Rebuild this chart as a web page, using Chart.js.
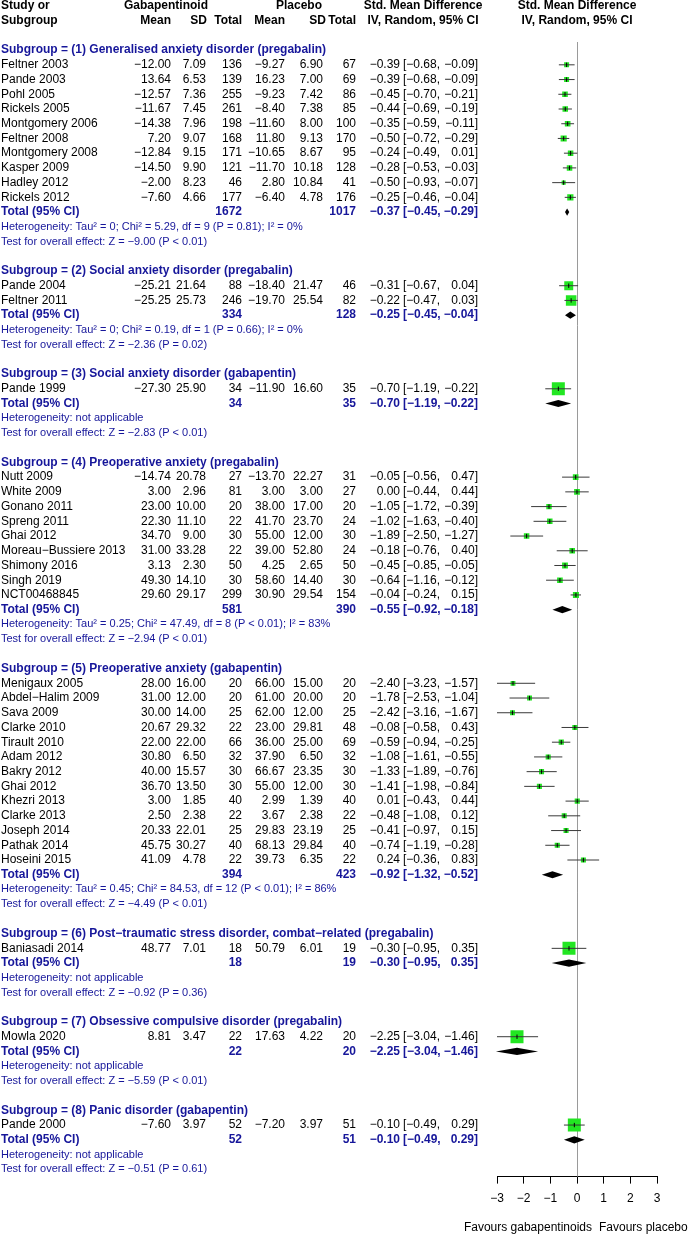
<!DOCTYPE html>
<html>
<head>
<meta charset="utf-8">
<script src="https://cdn.jsdelivr.net/npm/chart.js@4.4.1/dist/chart.umd.min.js"></script>
<style>
  html, body { margin: 0; padding: 0; background: #fff; }
  canvas { display: block; }
</style>
</head>
<body>
<canvas id="forest" width="692" height="1237"></canvas>
<script>
// subgroup labels
const groupTitles = [
  "Subgroup = (1) Generalised anxiety disorder (pregabalin)",
  "Subgroup = (2) Social anxiety disorder (pregabalin)",
  "Subgroup = (3) Social anxiety disorder (gabapentin)",
  "Subgroup = (4) Preoperative anxiety (pregabalin)",
  "Subgroup = (5) Preoperative anxiety (gabapentin)",
  "Subgroup = (6) Post−traumatic stress disorder, combat−related (pregabalin)",
  "Subgroup = (7) Obsessive compulsive disorder (pregabalin)",
  "Subgroup = (8) Panic disorder (gabapentin)"
];

// studies
const studyNames = [
  "Feltner 2003", "Pande 2003", "Pohl 2005", "Rickels 2005", "Montgomery 2006",
  "Feltner 2008", "Montgomery 2008", "Kasper 2009", "Hadley 2012", "Rickels 2012",
  "Pande 2004", "Feltner 2011",
  "Pande 1999",
  "Nutt 2009", "White 2009", "Gonano 2011", "Spreng 2011", "Ghai 2012",
  "Moreau−Bussiere 2013", "Shimony 2016", "Singh 2019", "NCT00468845",
  "Menigaux 2005", "Abdel−Halim 2009", "Sava 2009", "Clarke 2010", "Tirault 2010",
  "Adam 2012", "Bakry 2012", "Ghai 2012", "Khezri 2013", "Clarke 2013",
  "Joseph 2014", "Pathak 2014", "Hoseini 2015",
  "Baniasadi 2014",
  "Mowla 2020",
  "Pande 2000"
];
const studyGroup = [
  0, 0, 0, 0, 0, 0, 0, 0, 0, 0,
  1, 1,
  2,
  3, 3, 3, 3, 3, 3, 3, 3, 3,
  4, 4, 4, 4, 4, 4, 4, 4, 4, 4, 4, 4, 4,
  5,
  6,
  7
];

const gabMean = [
  -12.00, 13.64, -12.57, -11.67, -14.38, 7.20, -12.84, -14.50, -2.00, -7.60,
  -25.21, -25.25,
  -27.30,
  -14.74, 3.00, 23.00, 22.30, 34.70, 31.00, 3.13, 49.30, 29.60,
  28.00, 31.00, 30.00, 20.67, 22.00, 30.80, 40.00, 36.70, 3.00, 2.50, 20.33, 45.75, 41.09,
  48.77,
  8.81,
  -7.60
];
const gabSD = [
  7.09, 6.53, 7.36, 7.45, 7.96, 9.07, 9.15, 9.90, 8.23, 4.66,
  21.64, 25.73,
  25.90,
  20.78, 2.96, 10.00, 11.10, 9.00, 33.28, 2.30, 14.10, 29.17,
  16.00, 12.00, 14.00, 29.32, 22.00, 6.50, 15.57, 13.50, 1.85, 2.38, 22.01, 30.27, 4.78,
  7.01,
  3.47,
  3.97
];
const gabN = [
  136, 139, 255, 261, 198, 168, 171, 121, 46, 177,
  88, 246,
  34,
  27, 81, 20, 22, 30, 22, 50, 30, 299,
  20, 20, 25, 22, 66, 32, 30, 30, 40, 22, 25, 40, 22,
  18,
  22,
  52
];
const plMean = [
  -9.27, 16.23, -9.23, -8.40, -11.60, 11.80, -10.65, -11.70, 2.80, -6.40,
  -18.40, -19.70,
  -11.90,
  -13.70, 3.00, 38.00, 41.70, 55.00, 39.00, 4.25, 58.60, 30.90,
  66.00, 61.00, 62.00, 23.00, 36.00, 37.90, 66.67, 55.00, 2.99, 3.67, 29.83, 68.13, 39.73,
  50.79,
  17.63,
  -7.20
];
const plSD = [
  6.90, 7.00, 7.42, 7.38, 8.00, 9.13, 8.67, 10.18, 10.84, 4.78,
  21.47, 25.54,
  16.60,
  22.27, 3.00, 17.00, 23.70, 12.00, 52.80, 2.65, 14.40, 29.54,
  15.00, 20.00, 12.00, 29.81, 25.00, 6.50, 23.35, 12.00, 1.39, 2.38, 23.19, 29.84, 6.35,
  6.01,
  4.22,
  3.97
];
const plN = [
  67, 69, 86, 85, 100, 170, 95, 128, 41, 176,
  46, 82,
  35,
  31, 27, 20, 24, 30, 24, 50, 30, 154,
  20, 20, 25, 48, 69, 32, 30, 30, 40, 22, 25, 40, 22,
  19,
  20,
  51
];
const smd = [
  -0.39, -0.39, -0.45, -0.44, -0.35, -0.50, -0.24, -0.28, -0.50, -0.25,
  -0.31, -0.22,
  -0.70,
  -0.05, 0.00, -1.05, -1.02, -1.89, -0.18, -0.45, -0.64, -0.04,
  -2.40, -1.78, -2.42, -0.08, -0.59, -1.08, -1.33, -1.41, 0.01, -0.48, -0.41, -0.74, 0.24,
  -0.30,
  -2.25,
  -0.10
];
const smdLower = [
  -0.68, -0.68, -0.70, -0.69, -0.59, -0.72, -0.49, -0.53, -0.93, -0.46,
  -0.67, -0.47,
  -1.19,
  -0.56, -0.44, -1.72, -1.63, -2.50, -0.76, -0.85, -1.16, -0.24,
  -3.23, -2.53, -3.16, -0.58, -0.94, -1.61, -1.89, -1.98, -0.43, -1.08, -0.97, -1.19, -0.36,
  -0.95,
  -3.04,
  -0.49
];
const smdUpper = [
  -0.09, -0.09, -0.21, -0.19, -0.11, -0.29, 0.01, -0.03, -0.07, -0.04,
  0.04, 0.03,
  -0.22,
  0.47, 0.44, -0.39, -0.40, -1.27, 0.40, -0.05, -0.12, 0.15,
  -1.57, -1.04, -1.67, 0.43, -0.25, -0.55, -0.76, -0.84, 0.44, 0.12, 0.15, -0.28, 0.83,
  0.35,
  -1.46,
  0.29
];
// weight within subgroup (%), estimated
const studyWeight = [
  7.4, 7.4, 10.8, 10.3, 11.2, 14.0, 10.3, 10.3, 3.5, 14.7,
  40, 60,
  100,
  11.1, 11.8, 9.7, 10.1, 10.1, 10.5, 12.1, 11.0, 13.6,
  6.6, 7.0, 7.0, 8.0, 8.6, 7.9, 7.8, 7.7, 8.3, 7.6, 7.8, 8.2, 7.6,
  100,
  100,
  100
];

// subgroup totals
const totalGabN = [1672, 334, 34, 581, 394, 18, 22, 52];
const totalPlN = [1017, 128, 35, 390, 423, 19, 20, 51];
const totalSmd = [-0.37, -0.25, -0.70, -0.55, -0.92, -0.30, -2.25, -0.10];
const totalLower = [-0.45, -0.45, -1.19, -0.92, -1.32, -0.95, -3.04, -0.49];
const totalUpper = [-0.29, -0.04, -0.22, -0.18, -0.52, 0.35, -1.46, 0.29];
const hetTexts = [
  "Heterogeneity: Tau² = 0; Chi² = 5.29, df = 9 (P = 0.81); I² = 0%",
  "Heterogeneity: Tau² = 0; Chi² = 0.19, df = 1 (P = 0.66); I² = 0%",
  "Heterogeneity: not applicable",
  "Heterogeneity: Tau² = 0.25; Chi² = 47.49, df = 8 (P < 0.01); I² = 83%",
  "Heterogeneity: Tau² = 0.45; Chi² = 84.53, df = 12 (P < 0.01); I² = 86%",
  "Heterogeneity: not applicable",
  "Heterogeneity: not applicable",
  "Heterogeneity: not applicable"
];
const testTexts = [
  "Test for overall effect: Z = −9.00 (P < 0.01)",
  "Test for overall effect: Z = −2.36 (P = 0.02)",
  "Test for overall effect: Z = −2.83 (P < 0.01)",
  "Test for overall effect: Z = −2.94 (P < 0.01)",
  "Test for overall effect: Z = −4.49 (P < 0.01)",
  "Test for overall effect: Z = −0.92 (P = 0.36)",
  "Test for overall effect: Z = −5.59 (P < 0.01)",
  "Test for overall effect: Z = −0.51 (P = 0.61)"
];
const xTicks = [-3, -2, -1, 0, 1, 2, 3];
const labelLeft = "Favours gabapentinoids";
const labelRight = "Favours placebo";

// ---- row layout (one line index per text row) ----
const rows = [];
const studyLine = [];
const totalLine = [];
let ln = 0;
groupTitles.forEach((t, g) => {
  rows.push({ line: ln++, kind: "title", g: g });
  studyGroup.forEach((sg, i) => {
    if (sg === g) { studyLine[i] = ln; rows.push({ line: ln++, kind: "study", i: i }); }
  });
  totalLine[g] = ln;
  rows.push({ line: ln++, kind: "total", g: g });
  rows.push({ line: ln++, kind: "het", g: g });
  rows.push({ line: ln++, kind: "test", g: g });
  ln++;
});

const FONT = '"Liberation Sans", Arial, Helvetica, sans-serif';
const BLUE = "#16169a";
const GREEN = "#22e622";

function f2(v) { return v.toFixed(2).replace("-", "−"); }

function squareSide(w) { return 11 * Math.sqrt(w / 100) + 2; }

const colX = { gm: 171, gs: 206, gn: 242, pm: 285, ps: 323, pn: 356, est: 400, lo: 403, hi: 478 };

function txt(ctx, s, x, y, align, weight, color, size) {
  ctx.font = (weight || "normal") + " " + (size || 12) + "px " + FONT;
  ctx.fillStyle = color || "#000";
  ctx.textAlign = align || "left";
  ctx.textBaseline = "middle";
  ctx.fillText(s, x, y);
}

const forestPlugin = {
  id: "forestPlugin",
  beforeDatasetsDraw(chart) {
    const { ctx, scales: { x, y }, chartArea } = chart;
    const x0 = Math.round(x.getPixelForValue(0)) + 0.5;
    ctx.save();
    ctx.strokeStyle = "#9a9a9a";
    ctx.lineWidth = 1;
    ctx.beginPath();
    ctx.moveTo(x0, y.getPixelForValue(-0.55));
    ctx.lineTo(x0, chartArea.bottom);
    ctx.stroke();
    ctx.restore();
  },
  afterDatasetsDraw(chart) {
    const { ctx, scales: { x, y } } = chart;
    ctx.save();
    ctx.fillStyle = "#000";
    totalSmd.forEach((m, g) => {
      const py = y.getPixelForValue(totalLine[g]);
      const xl = x.getPixelForValue(totalLower[g]);
      const xm = x.getPixelForValue(m);
      const xh = x.getPixelForValue(totalUpper[g]);
      ctx.beginPath();
      ctx.moveTo(xl, py);
      ctx.lineTo(xm, py - 3.6);
      ctx.lineTo(xh, py);
      ctx.lineTo(xm, py + 3.6);
      ctx.closePath();
      ctx.fill();
    });
    ctx.restore();
  },
  afterDraw(chart) {
    const { ctx, scales: { x, y } } = chart;
    const xc = x.getPixelForValue(0);
    ctx.save();
    // header
    const h1 = y.getPixelForValue(-3), h2 = y.getPixelForValue(-2);
    txt(ctx, "Study or", 1, h1, "left", "bold");
    txt(ctx, "Subgroup", 1, h2, "left", "bold");
    txt(ctx, "Gabapentinoid", 166, h1, "center", "bold");
    txt(ctx, "Placebo", 299, h1, "center", "bold");
    txt(ctx, "Std. Mean Difference", 423, h1, "center", "bold");
    txt(ctx, "IV, Random, 95% CI", 423, h2, "center", "bold");
    txt(ctx, "Std. Mean Difference", xc, h1, "center", "bold");
    txt(ctx, "IV, Random, 95% CI", xc, h2, "center", "bold");
    txt(ctx, "Mean", colX.gm, h2, "right", "bold");
    txt(ctx, "SD", colX.gs + 1, h2, "right", "bold");
    txt(ctx, "Total", colX.gn, h2, "right", "bold");
    txt(ctx, "Mean", colX.pm, h2, "right", "bold");
    txt(ctx, "SD", colX.ps + 3, h2, "right", "bold");
    txt(ctx, "Total", colX.pn, h2, "right", "bold");

    rows.forEach(r => {
      const py = y.getPixelForValue(r.line);
      if (r.kind === "title") {
        txt(ctx, groupTitles[r.g], 1, py, "left", "bold", BLUE);
      } else if (r.kind === "study") {
        const i = r.i;
        txt(ctx, studyNames[i], 1, py, "left");
        txt(ctx, f2(gabMean[i]), colX.gm, py, "right");
        txt(ctx, f2(gabSD[i]), colX.gs, py, "right");
        txt(ctx, String(gabN[i]), colX.gn, py, "right");
        txt(ctx, f2(plMean[i]), colX.pm, py, "right");
        txt(ctx, f2(plSD[i]), colX.ps, py, "right");
        txt(ctx, String(plN[i]), colX.pn, py, "right");
        txt(ctx, f2(smd[i]), colX.est, py, "right");
        txt(ctx, "[" + f2(smdLower[i]) + ",", colX.lo, py, "left");
        txt(ctx, f2(smdUpper[i]) + "]", colX.hi, py, "right");
      } else if (r.kind === "total") {
        const g = r.g;
        txt(ctx, "Total (95% CI)", 1, py, "left", "bold", BLUE);
        txt(ctx, String(totalGabN[g]), colX.gn, py, "right", "bold", BLUE);
        txt(ctx, String(totalPlN[g]), colX.pn, py, "right", "bold", BLUE);
        txt(ctx, f2(totalSmd[g]), colX.est, py, "right", "bold", BLUE);
        txt(ctx, "[" + f2(totalLower[g]) + ",", colX.lo, py, "left", "bold", BLUE);
        txt(ctx, f2(totalUpper[g]) + "]", colX.hi, py, "right", "bold", BLUE);
      } else if (r.kind === "het") {
        txt(ctx, hetTexts[r.g], 1, py, "left", "normal", BLUE, 11);
      } else {
        txt(ctx, testTexts[r.g], 1, py, "left", "normal", BLUE, 11);
      }
    });

    txt(ctx, labelLeft, 592, 1228, "right");
    txt(ctx, labelRight, 599, 1228, "left");
    ctx.restore();
  }
};

const pts = studyNames.map((n, i) => ({ x: smd[i], y: studyLine[i] }));
const ciData = [];
studyNames.forEach((n, i) => {
  ciData.push({ x: smdLower[i], y: studyLine[i] });
  ciData.push({ x: smdUpper[i], y: studyLine[i] });
  ciData.push({ x: smd[i], y: null });
});

const chart = new Chart(document.getElementById("forest").getContext("2d"), {
  type: "scatter",
  data: {
    datasets: [
      {
        // estimate marks
        data: pts,
        pointStyle: "line",
        pointRotation: 90,
        pointRadius: 2.2,
        pointBorderColor: "#000",
        pointBorderWidth: 1,
        pointBackgroundColor: "#000"
      },
      {
        // confidence intervals
        data: ciData,
        showLine: true,
        spanGaps: false,
        borderColor: "#3a3a3a",
        borderWidth: 1,
        pointRadius: 0
      },
      {
        // weighted squares
        data: pts,
        pointStyle: "rect",
        pointRadius: studyWeight.map(w => squareSide(w) / Math.SQRT2),
        pointBackgroundColor: GREEN,
        pointBorderWidth: 0,
        pointBorderColor: GREEN
      }
    ]
  },
  options: {
    responsive: false,
    animation: false,
    events: [],
    layout: { padding: { left: 497, right: 35, top: 42, bottom: 23 } },
    plugins: {
      legend: { display: false },
      tooltip: { enabled: false }
    },
    scales: {
      x: {
        type: "linear",
        min: -3,
        max: 3,
        afterBuildTicks: axis => { axis.ticks = xTicks.map(v => ({ value: v })); },
        ticks: {
          color: "#000",
          padding: 8,
          maxRotation: 0,
          font: { family: FONT, size: 12 },
          callback: v => (v < 0 ? "−" + Math.abs(v) : String(v))
        },
        grid: { display: true, drawOnChartArea: false, drawTicks: true, tickLength: 7, color: "#000" },
        border: { display: true, color: "#000", width: 1 }
      },
      y: {
        type: "linear",
        min: -0.55,
        max: 76.5,
        reverse: true,
        display: false
      }
    }
  },
  plugins: [forestPlugin]
});
</script>
</body>
</html>
